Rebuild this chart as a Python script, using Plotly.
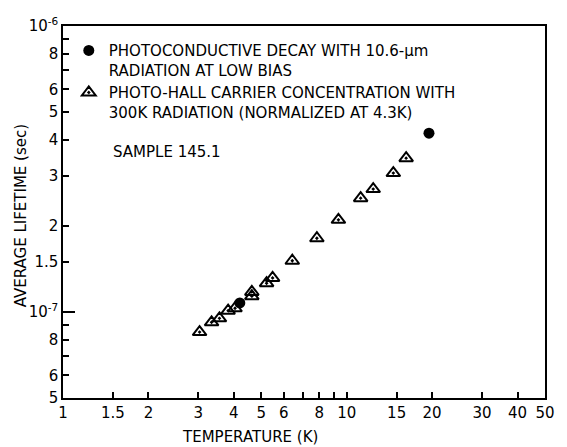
import plotly.graph_objects as go

# Photo-Hall carrier concentration (300 K radiation, normalized at 4.3 K)
hall_temp = [3.03, 3.34, 3.56, 3.82, 4.04, 4.63, 4.63, 5.22, 5.48, 6.43, 7.85, 9.35, 11.2, 12.4, 14.6, 16.2]
hall_tau = [8.5e-8, 9.2e-8, 9.5e-8, 1.01e-7, 1.03e-7, 1.175e-7, 1.135e-7, 1.26e-7, 1.315e-7,
            1.51e-7, 1.81e-7, 2.10e-7, 2.50e-7, 2.69e-7, 3.06e-7, 3.45e-7]

# Photoconductive decay with 10.6-um radiation at low bias
pc_temp = [4.2, 19.5]
pc_tau = [1.075e-7, 4.22e-7]

x_tickvals = [1, 1.5, 2, 3, 4, 5, 6, 8, 10, 15, 20, 30, 40, 50]
x_ticktext = ["1", "1.5", "2", "3", "4", "5", "6", "8", "10", "15", "20", "30", "40", "50"]
x_minor = [7, 9]

y_tickvals = [5e-8, 6e-8, 8e-8, 1e-7, 1.5e-7, 2e-7, 3e-7, 4e-7, 5e-7, 6e-7, 8e-7, 1e-6]
y_ticktext = ["5", "6", "8", "10<sup>-7</sup>", "1.5", "2", "3", "4", "5", "6", "8", "10<sup>-6</sup>"]
y_minor = [7e-8, 9e-8, 7e-7, 9e-7]

FONT = "DejaVu Sans"
TEXT_SIZE = 15

fig = go.Figure()
fig.add_trace(go.Scatter(
    x=pc_temp, y=pc_tau, mode="markers",
    name="PHOTOCONDUCTIVE DECAY WITH 10.6-\u03bcm<br>RADIATION AT LOW BIAS",
    marker=dict(symbol="circle", size=11, color="black"),
))
fig.add_trace(go.Scatter(
    x=hall_temp, y=hall_tau, mode="markers",
    name="PHOTO-HALL CARRIER CONCENTRATION WITH<br>300K RADIATION (NORMALIZED AT 4.3K)",
    marker=dict(symbol="triangle-up-open-dot", size=12, color="black",
                line=dict(width=2, color="black")),
))
# invisible trace carrying the long 10^-7 tick on an overlaid axis
fig.add_trace(go.Scatter(x=[None], y=[None], yaxis="y2", showlegend=False, hoverinfo="skip"))

axis_common = dict(showgrid=False, zeroline=False, showline=True, linecolor="black",
                   linewidth=1.5, mirror=True, ticks="inside", tickcolor="black",
                   tickwidth=1.5, ticklen=6,
                   tickfont=dict(family=FONT, size=15, color="black"))

fig.update_layout(
    width=567, height=447,
    margin=dict(l=63, r=14, t=26, b=49),
    paper_bgcolor="white", plot_bgcolor="white",
    font=dict(family=FONT, color="black"),
    xaxis=dict(type="log", range=[0, 1.69897], tickmode="array",
               tickvals=x_tickvals, ticktext=x_ticktext,
               minor=dict(tickvals=x_minor, ticks="inside", ticklen=6,
                          tickcolor="black", tickwidth=1.5),
               **axis_common),
    yaxis=dict(type="log", range=[-7.30103, -6], tickmode="array",
               tickvals=y_tickvals, ticktext=y_ticktext,
               minor=dict(tickvals=y_minor, ticks="inside", ticklen=6,
                          tickcolor="black", tickwidth=1.5),
               **axis_common),
    yaxis2=dict(type="log", range=[-7.30103, -6], overlaying="y", side="left",
                tickmode="array", tickvals=[1e-7], showticklabels=False,
                ticks="inside", ticklen=12, tickwidth=1.5, tickcolor="black",
                showgrid=False, zeroline=False, showline=False),
    legend=dict(x=0.012, y=0.978, xanchor="left", yanchor="top",
                bgcolor="rgba(0,0,0,0)", valign="top", tracegroupgap=1,
                font=dict(family=FONT, size=TEXT_SIZE, color="black")),
    annotations=[
        dict(text="SAMPLE 145.1", xref="paper", yref="paper", x=0.1, y=0.661,
             xanchor="left", yanchor="middle", showarrow=False,
             font=dict(family=FONT, size=TEXT_SIZE, color="black")),
        dict(text="TEMPERATURE (K)", xref="paper", yref="paper", x=0.389, y=-0.105,
             xanchor="center", yanchor="middle", showarrow=False,
             font=dict(family=FONT, size=TEXT_SIZE, color="black")),
        dict(text="AVERAGE LIFETIME (sec)", xref="paper", yref="paper", x=-0.088, y=0.49,
             xanchor="center", yanchor="middle", textangle=-90, showarrow=False,
             font=dict(family=FONT, size=TEXT_SIZE, color="black")),
    ],
)

fig.write_html("out.html")
